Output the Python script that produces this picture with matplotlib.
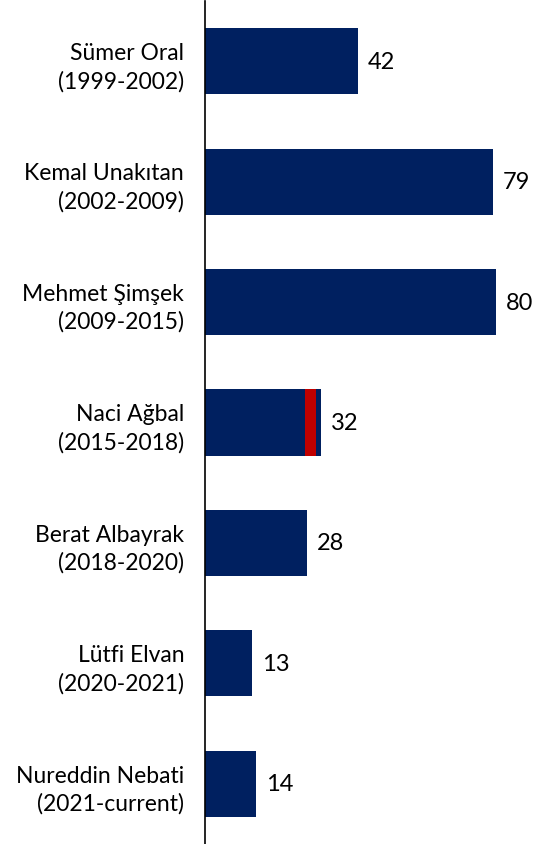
import matplotlib
matplotlib.use("Agg")
import matplotlib.pyplot as plt

names = ["Sümer Oral\n(1999-2002)", "Kemal Unakıtan\n(2002-2009)", "Mehmet Şimşek\n(2009-2015)",
         "Naci Ağbal\n(2015-2018)", "Berat Albayrak\n(2018-2020)", "Lütfi Elvan\n(2020-2021)",
         "Nureddin Nebati\n(2021-current)"]
values = [42, 79, 80, 32, 28, 13, 14]
# Naci Ağbal bar split: blue part, red part, blue remainder
seg_blue1 = 27.5
seg_red = 3.0

navy = "#002060"
red = "#C00000"

fig = plt.figure(figsize=(5.37, 8.45), dpi=100)
ax = fig.add_axes([205/537, 0, 332/537, 843/845])
y = list(range(len(names)))
ax.barh(y, values, height=0.55, color=navy)
i = 3
ax.barh(i, seg_red, left=seg_blue1, height=0.55, color=red)
ax.set_ylim(len(names)-0.5, -0.5)
ax.set_xlim(0, 91.2)
for s in ["top", "right", "bottom"]:
    ax.spines[s].set_visible(False)
ax.spines["left"].set_linewidth(1.2)
ax.set_xticks([])
ax.set_yticks(y)
ax.set_yticklabels(names, fontsize=16.5, family="Lato", ha="right", multialignment="right",
                   linespacing=1.38)
ax.tick_params(axis="y", length=0, pad=15)
for yi, v in zip(y, values):
    ax.text(v + 2.7, yi, str(v), va="center", ha="left", fontsize=17, family="Lato")
fig.savefig("out.png", dpi=100)
